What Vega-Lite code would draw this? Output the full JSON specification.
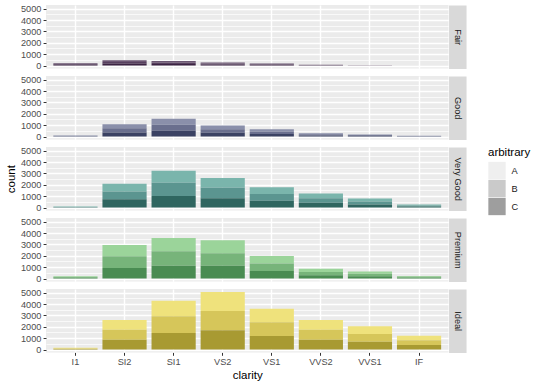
{
"$schema": "https://vega.github.io/schema/vega-lite/v6.json",
"padding": {"left": 5, "top": 4, "right": 0, "bottom": 0},
"bounds": "flush",
"spacing": 7,
"config": {"font": "Liberation Sans", "view": {"fill": "#EBEBEB", "stroke": null}},
"datasets": {"d": [
{"cut":"Fair","clarity":"I1","arbitrary":"A","count":72},{"cut":"Fair","clarity":"I1","arbitrary":"B","count":68},{"cut":"Fair","clarity":"I1","arbitrary":"C","count":70},
{"cut":"Fair","clarity":"SI2","arbitrary":"A","count":158},{"cut":"Fair","clarity":"SI2","arbitrary":"B","count":152},{"cut":"Fair","clarity":"SI2","arbitrary":"C","count":156},
{"cut":"Fair","clarity":"SI1","arbitrary":"A","count":134},{"cut":"Fair","clarity":"SI1","arbitrary":"B","count":140},{"cut":"Fair","clarity":"SI1","arbitrary":"C","count":134},
{"cut":"Fair","clarity":"VS2","arbitrary":"A","count":88},{"cut":"Fair","clarity":"VS2","arbitrary":"B","count":85},{"cut":"Fair","clarity":"VS2","arbitrary":"C","count":88},
{"cut":"Fair","clarity":"VS1","arbitrary":"A","count":55},{"cut":"Fair","clarity":"VS1","arbitrary":"B","count":58},{"cut":"Fair","clarity":"VS1","arbitrary":"C","count":57},
{"cut":"Fair","clarity":"VVS2","arbitrary":"A","count":24},{"cut":"Fair","clarity":"VVS2","arbitrary":"B","count":22},{"cut":"Fair","clarity":"VVS2","arbitrary":"C","count":23},
{"cut":"Fair","clarity":"VVS1","arbitrary":"A","count":6},{"cut":"Fair","clarity":"VVS1","arbitrary":"B","count":5},{"cut":"Fair","clarity":"VVS1","arbitrary":"C","count":6},
{"cut":"Fair","clarity":"IF","arbitrary":"A","count":3},{"cut":"Fair","clarity":"IF","arbitrary":"B","count":3},{"cut":"Fair","clarity":"IF","arbitrary":"C","count":3},
{"cut":"Good","clarity":"I1","arbitrary":"A","count":33},{"cut":"Good","clarity":"I1","arbitrary":"B","count":31},{"cut":"Good","clarity":"I1","arbitrary":"C","count":32},
{"cut":"Good","clarity":"SI2","arbitrary":"A","count":362},{"cut":"Good","clarity":"SI2","arbitrary":"B","count":355},{"cut":"Good","clarity":"SI2","arbitrary":"C","count":364},
{"cut":"Good","clarity":"SI1","arbitrary":"A","count":518},{"cut":"Good","clarity":"SI1","arbitrary":"B","count":527},{"cut":"Good","clarity":"SI1","arbitrary":"C","count":515},
{"cut":"Good","clarity":"VS2","arbitrary":"A","count":330},{"cut":"Good","clarity":"VS2","arbitrary":"B","count":322},{"cut":"Good","clarity":"VS2","arbitrary":"C","count":326},
{"cut":"Good","clarity":"VS1","arbitrary":"A","count":214},{"cut":"Good","clarity":"VS1","arbitrary":"B","count":219},{"cut":"Good","clarity":"VS1","arbitrary":"C","count":215},
{"cut":"Good","clarity":"VVS2","arbitrary":"A","count":97},{"cut":"Good","clarity":"VVS2","arbitrary":"B","count":93},{"cut":"Good","clarity":"VVS2","arbitrary":"C","count":96},
{"cut":"Good","clarity":"VVS1","arbitrary":"A","count":60},{"cut":"Good","clarity":"VVS1","arbitrary":"B","count":64},{"cut":"Good","clarity":"VVS1","arbitrary":"C","count":62},
{"cut":"Good","clarity":"IF","arbitrary":"A","count":24},{"cut":"Good","clarity":"IF","arbitrary":"B","count":23},{"cut":"Good","clarity":"IF","arbitrary":"C","count":24},
{"cut":"Very Good","clarity":"I1","arbitrary":"A","count":28},{"cut":"Very Good","clarity":"I1","arbitrary":"B","count":27},{"cut":"Very Good","clarity":"I1","arbitrary":"C","count":29},
{"cut":"Very Good","clarity":"SI2","arbitrary":"A","count":680},{"cut":"Very Good","clarity":"SI2","arbitrary":"B","count":700},{"cut":"Very Good","clarity":"SI2","arbitrary":"C","count":720},
{"cut":"Very Good","clarity":"SI1","arbitrary":"A","count":1070},{"cut":"Very Good","clarity":"SI1","arbitrary":"B","count":1160},{"cut":"Very Good","clarity":"SI1","arbitrary":"C","count":1010},
{"cut":"Very Good","clarity":"VS2","arbitrary":"A","count":851},{"cut":"Very Good","clarity":"VS2","arbitrary":"B","count":930},{"cut":"Very Good","clarity":"VS2","arbitrary":"C","count":810},
{"cut":"Very Good","clarity":"VS1","arbitrary":"A","count":590},{"cut":"Very Good","clarity":"VS1","arbitrary":"B","count":597},{"cut":"Very Good","clarity":"VS1","arbitrary":"C","count":588},
{"cut":"Very Good","clarity":"VVS2","arbitrary":"A","count":415},{"cut":"Very Good","clarity":"VVS2","arbitrary":"B","count":408},{"cut":"Very Good","clarity":"VVS2","arbitrary":"C","count":412},
{"cut":"Very Good","clarity":"VVS1","arbitrary":"A","count":262},{"cut":"Very Good","clarity":"VVS1","arbitrary":"B","count":265},{"cut":"Very Good","clarity":"VVS1","arbitrary":"C","count":262},
{"cut":"Very Good","clarity":"IF","arbitrary":"A","count":90},{"cut":"Very Good","clarity":"IF","arbitrary":"B","count":88},{"cut":"Very Good","clarity":"IF","arbitrary":"C","count":90},
{"cut":"Premium","clarity":"I1","arbitrary":"A","count":70},{"cut":"Premium","clarity":"I1","arbitrary":"B","count":66},{"cut":"Premium","clarity":"I1","arbitrary":"C","count":69},
{"cut":"Premium","clarity":"SI2","arbitrary":"A","count":979},{"cut":"Premium","clarity":"SI2","arbitrary":"B","count":1040},{"cut":"Premium","clarity":"SI2","arbitrary":"C","count":930},
{"cut":"Premium","clarity":"SI1","arbitrary":"A","count":1175},{"cut":"Premium","clarity":"SI1","arbitrary":"B","count":1270},{"cut":"Premium","clarity":"SI1","arbitrary":"C","count":1130},
{"cut":"Premium","clarity":"VS2","arbitrary":"A","count":1127},{"cut":"Premium","clarity":"VS2","arbitrary":"B","count":1100},{"cut":"Premium","clarity":"VS2","arbitrary":"C","count":1130},
{"cut":"Premium","clarity":"VS1","arbitrary":"A","count":660},{"cut":"Premium","clarity":"VS1","arbitrary":"B","count":668},{"cut":"Premium","clarity":"VS1","arbitrary":"C","count":661},
{"cut":"Premium","clarity":"VVS2","arbitrary":"A","count":292},{"cut":"Premium","clarity":"VVS2","arbitrary":"B","count":286},{"cut":"Premium","clarity":"VVS2","arbitrary":"C","count":292},
{"cut":"Premium","clarity":"VVS1","arbitrary":"A","count":203},{"cut":"Premium","clarity":"VVS1","arbitrary":"B","count":208},{"cut":"Premium","clarity":"VVS1","arbitrary":"C","count":205},
{"cut":"Premium","clarity":"IF","arbitrary":"A","count":78},{"cut":"Premium","clarity":"IF","arbitrary":"B","count":75},{"cut":"Premium","clarity":"IF","arbitrary":"C","count":77},
{"cut":"Ideal","clarity":"I1","arbitrary":"A","count":48},{"cut":"Ideal","clarity":"I1","arbitrary":"B","count":50},{"cut":"Ideal","clarity":"I1","arbitrary":"C","count":48},
{"cut":"Ideal","clarity":"SI2","arbitrary":"A","count":858},{"cut":"Ideal","clarity":"SI2","arbitrary":"B","count":870},{"cut":"Ideal","clarity":"SI2","arbitrary":"C","count":870},
{"cut":"Ideal","clarity":"SI1","arbitrary":"A","count":1352},{"cut":"Ideal","clarity":"SI1","arbitrary":"B","count":1480},{"cut":"Ideal","clarity":"SI1","arbitrary":"C","count":1450},
{"cut":"Ideal","clarity":"VS2","arbitrary":"A","count":1681},{"cut":"Ideal","clarity":"VS2","arbitrary":"B","count":1690},{"cut":"Ideal","clarity":"VS2","arbitrary":"C","count":1700},
{"cut":"Ideal","clarity":"VS1","arbitrary":"A","count":1200},{"cut":"Ideal","clarity":"VS1","arbitrary":"B","count":1190},{"cut":"Ideal","clarity":"VS1","arbitrary":"C","count":1199},
{"cut":"Ideal","clarity":"VVS2","arbitrary":"A","count":872},{"cut":"Ideal","clarity":"VVS2","arbitrary":"B","count":865},{"cut":"Ideal","clarity":"VVS2","arbitrary":"C","count":869},
{"cut":"Ideal","clarity":"VVS1","arbitrary":"A","count":680},{"cut":"Ideal","clarity":"VVS1","arbitrary":"B","count":690},{"cut":"Ideal","clarity":"VVS1","arbitrary":"C","count":677},
{"cut":"Ideal","clarity":"IF","arbitrary":"A","count":405},{"cut":"Ideal","clarity":"IF","arbitrary":"B","count":400},{"cut":"Ideal","clarity":"IF","arbitrary":"C","count":407}
]},
"vconcat": [
{
 "width": 402.5, "height": 63.4,
 "data": {"name": "d"},
 "transform": [{"filter": "datum.cut === 'Fair'"}],
 "layer": [
  {"mark": {"type": "bar"},
   "encoding": {
    "x": {"field": "clarity", "type": "nominal", "sort": ["I1","SI2","SI1","VS2","VS1","VVS2","VVS1","IF"], "scale": {"paddingInner": 0.1, "paddingOuter": 0.15},
          "axis": {"labels": false, "ticks": false, "domain": false, "grid": true, "gridColor": "#FFFFFF", "gridWidth": 1.4, "title": null, "bandPosition": 0.5}},
    "y": {"field": "count", "type": "quantitative", "stack": "zero", "scale": {"domain": [-253.55, 5324.55], "nice": false, "zero": false},
          "axis": {"values": [0,1000,2000,3000,4000,5000], "format": "d", "grid": true, "gridColor": "#FFFFFF", "gridWidth": 1.4, "domain": false, "tickColor": "#333333", "tickSize": 2.9, "tickWidth": 1, "labelColor": "#4D4D4D", "labelFontSize": 9.2, "labelPadding": 2.2, "labelOverlap": false, "title": "count", "titleOpacity": 0, "titleFontSize": 11.5, "titleFontWeight": "normal", "titleColor": "#000000", "titlePadding": 4}},
    "color": {"field": "arbitrary", "type": "nominal", "scale": {"domain": ["A","B","C"], "range": ["#6B5672","#58405F","#3B2342"]}, "legend": null},
    "order": {"field": "arbitrary", "sort": "descending"}
   }},
  {"mark": {"type": "bar", "opacity": 0},
   "encoding": {
    "x": {"field": "clarity", "type": "nominal", "sort": ["I1","SI2","SI1","VS2","VS1","VVS2","VVS1","IF"]},
    "y": {"field": "count", "type": "quantitative", "stack": null, "scale": {"domain": [-253.55, 5324.55], "nice": false, "zero": false},
          "axis": {"orient": "right", "values": [500,1500,2500,3500,4500], "grid": true, "gridColor": "#FFFFFF", "gridWidth": 0.7, "ticks": false, "labels": false, "domain": true, "domainColor": "#D9D9D9", "domainWidth": 17.5, "offset": 8.8, "title": "Fair", "titleAngle": 90, "titleX": 0, "titleY": 31.7, "titleAlign": "center", "titleBaseline": "middle", "titleFontSize": 9.2, "titleFontWeight": "normal", "titleColor": "#1A1A1A"}}
   }}
 ],
 "resolve": {"scale": {"y": "independent"}}
},
{
 "width": 402.5, "height": 63.4,
 "data": {"name": "d"},
 "transform": [{"filter": "datum.cut === 'Good'"}],
 "layer": [
  {"mark": {"type": "bar"},
   "encoding": {
    "x": {"field": "clarity", "type": "nominal", "sort": ["I1","SI2","SI1","VS2","VS1","VVS2","VVS1","IF"], "scale": {"paddingInner": 0.1, "paddingOuter": 0.15},
          "axis": {"labels": false, "ticks": false, "domain": false, "grid": true, "gridColor": "#FFFFFF", "gridWidth": 1.4, "title": null, "bandPosition": 0.5}},
    "y": {"field": "count", "type": "quantitative", "stack": "zero", "scale": {"domain": [-253.55, 5324.55], "nice": false, "zero": false},
          "axis": {"values": [0,1000,2000,3000,4000,5000], "format": "d", "grid": true, "gridColor": "#FFFFFF", "gridWidth": 1.4, "domain": false, "tickColor": "#333333", "tickSize": 2.9, "tickWidth": 1, "labelColor": "#4D4D4D", "labelFontSize": 9.2, "labelPadding": 2.2, "labelOverlap": false, "title": "count", "titleOpacity": 0, "titleFontSize": 11.5, "titleFontWeight": "normal", "titleColor": "#000000", "titlePadding": 4}},
    "color": {"field": "arbitrary", "type": "nominal", "scale": {"domain": ["A","B","C"], "range": ["#8A8FAA","#6A6F8E","#3B4263"]}, "legend": null},
    "order": {"field": "arbitrary", "sort": "descending"}
   }},
  {"mark": {"type": "bar", "opacity": 0},
   "encoding": {
    "x": {"field": "clarity", "type": "nominal", "sort": ["I1","SI2","SI1","VS2","VS1","VVS2","VVS1","IF"]},
    "y": {"field": "count", "type": "quantitative", "stack": null, "scale": {"domain": [-253.55, 5324.55], "nice": false, "zero": false},
          "axis": {"orient": "right", "values": [500,1500,2500,3500,4500], "grid": true, "gridColor": "#FFFFFF", "gridWidth": 0.7, "ticks": false, "labels": false, "domain": true, "domainColor": "#D9D9D9", "domainWidth": 17.5, "offset": 8.8, "title": "Good", "titleAngle": 90, "titleX": 0, "titleY": 31.7, "titleAlign": "center", "titleBaseline": "middle", "titleFontSize": 9.2, "titleFontWeight": "normal", "titleColor": "#1A1A1A"}}
   }}
 ],
 "resolve": {"scale": {"y": "independent"}}
},
{
 "width": 402.5, "height": 63.4,
 "data": {"name": "d"},
 "transform": [{"filter": "datum.cut === 'Very Good'"}],
 "layer": [
  {"mark": {"type": "bar"},
   "encoding": {
    "x": {"field": "clarity", "type": "nominal", "sort": ["I1","SI2","SI1","VS2","VS1","VVS2","VVS1","IF"], "scale": {"paddingInner": 0.1, "paddingOuter": 0.15},
          "axis": {"labels": false, "ticks": false, "domain": false, "grid": true, "gridColor": "#FFFFFF", "gridWidth": 1.4, "title": null, "bandPosition": 0.5}},
    "y": {"field": "count", "type": "quantitative", "stack": "zero", "scale": {"domain": [-253.55, 5324.55], "nice": false, "zero": false},
          "axis": {"values": [0,1000,2000,3000,4000,5000], "format": "d", "grid": true, "gridColor": "#FFFFFF", "gridWidth": 1.4, "domain": false, "tickColor": "#333333", "tickSize": 2.9, "tickWidth": 1, "labelColor": "#4D4D4D", "labelFontSize": 9.2, "labelPadding": 2.2, "labelOverlap": false, "title": "count", "titleOpacity": 1, "titleFontSize": 11.5, "titleFontWeight": "normal", "titleColor": "#000000", "titlePadding": 4}},
    "color": {"field": "arbitrary", "type": "nominal", "scale": {"domain": ["A","B","C"], "range": ["#7AB5AC","#5B9590","#2F6660"]}, "legend": null},
    "order": {"field": "arbitrary", "sort": "descending"}
   }},
  {"mark": {"type": "bar"},
   "encoding": {
    "x": {"field": "clarity", "type": "nominal", "sort": ["I1","SI2","SI1","VS2","VS1","VVS2","VVS1","IF"]},
    "y": {"field": "count", "type": "quantitative", "stack": null, "scale": {"domain": [-253.55, 5324.55], "nice": false, "zero": false},
          "axis": {"orient": "right", "values": [500,1500,2500,3500,4500], "grid": true, "gridColor": "#FFFFFF", "gridWidth": 0.7, "ticks": false, "labels": false, "domain": true, "domainColor": "#D9D9D9", "domainWidth": 17.5, "offset": 8.8, "title": "Very Good", "titleAngle": 90, "titleX": 0, "titleY": 31.7, "titleAlign": "center", "titleBaseline": "middle", "titleFontSize": 9.2, "titleFontWeight": "normal", "titleColor": "#1A1A1A"}},
    "y2": {"field": "count"},
    "color": {"field": "arbitrary", "type": "nominal", "scale": {"domain": ["A","B","C"], "range": ["#EFEFEF","#CACACA","#9E9E9E"]},
          "legend": {"title": "arbitrary", "orient": "right", "offset": 25.5, "symbolType": "square", "symbolSize": 300, "symbolStrokeWidth": 0, "rowPadding": 0, "titleFontSize": 11.5, "titleFontWeight": "normal", "titleColor": "#000000", "titlePadding": 3, "labelFontSize": 9.2, "labelColor": "#1A1A1A", "labelOffset": 5.5}}
   }}
 ],
 "resolve": {"scale": {"y": "independent", "color": "independent"}, "legend": {"color": "independent"}}
},
{
 "width": 402.5, "height": 63.4,
 "data": {"name": "d"},
 "transform": [{"filter": "datum.cut === 'Premium'"}],
 "layer": [
  {"mark": {"type": "bar"},
   "encoding": {
    "x": {"field": "clarity", "type": "nominal", "sort": ["I1","SI2","SI1","VS2","VS1","VVS2","VVS1","IF"], "scale": {"paddingInner": 0.1, "paddingOuter": 0.15},
          "axis": {"labels": false, "ticks": false, "domain": false, "grid": true, "gridColor": "#FFFFFF", "gridWidth": 1.4, "title": null, "bandPosition": 0.5}},
    "y": {"field": "count", "type": "quantitative", "stack": "zero", "scale": {"domain": [-253.55, 5324.55], "nice": false, "zero": false},
          "axis": {"values": [0,1000,2000,3000,4000,5000], "format": "d", "grid": true, "gridColor": "#FFFFFF", "gridWidth": 1.4, "domain": false, "tickColor": "#333333", "tickSize": 2.9, "tickWidth": 1, "labelColor": "#4D4D4D", "labelFontSize": 9.2, "labelPadding": 2.2, "labelOverlap": false, "title": "count", "titleOpacity": 0, "titleFontSize": 11.5, "titleFontWeight": "normal", "titleColor": "#000000", "titlePadding": 4}},
    "color": {"field": "arbitrary", "type": "nominal", "scale": {"domain": ["A","B","C"], "range": ["#9BD49A","#77B47A","#4A8C52"]}, "legend": null},
    "order": {"field": "arbitrary", "sort": "descending"}
   }},
  {"mark": {"type": "bar", "opacity": 0},
   "encoding": {
    "x": {"field": "clarity", "type": "nominal", "sort": ["I1","SI2","SI1","VS2","VS1","VVS2","VVS1","IF"]},
    "y": {"field": "count", "type": "quantitative", "stack": null, "scale": {"domain": [-253.55, 5324.55], "nice": false, "zero": false},
          "axis": {"orient": "right", "values": [500,1500,2500,3500,4500], "grid": true, "gridColor": "#FFFFFF", "gridWidth": 0.7, "ticks": false, "labels": false, "domain": true, "domainColor": "#D9D9D9", "domainWidth": 17.5, "offset": 8.8, "title": "Premium", "titleAngle": 90, "titleX": 0, "titleY": 31.7, "titleAlign": "center", "titleBaseline": "middle", "titleFontSize": 9.2, "titleFontWeight": "normal", "titleColor": "#1A1A1A"}}
   }}
 ],
 "resolve": {"scale": {"y": "independent"}}
},
{
 "width": 402.5, "height": 63.4,
 "data": {"name": "d"},
 "transform": [{"filter": "datum.cut === 'Ideal'"}],
 "layer": [
  {"mark": {"type": "bar"},
   "encoding": {
    "x": {"field": "clarity", "type": "nominal", "sort": ["I1","SI2","SI1","VS2","VS1","VVS2","VVS1","IF"], "scale": {"paddingInner": 0.1, "paddingOuter": 0.15},
          "axis": {"labels": true, "ticks": true, "domain": false, "grid": true, "gridColor": "#FFFFFF", "gridWidth": 1.4, "bandPosition": 0.5, "tickColor": "#333333", "tickSize": 2.9, "tickWidth": 1, "labelColor": "#4D4D4D", "labelFontSize": 9.2, "labelPadding": 2.2, "labelAngle": 0, "title": "clarity", "titleFontSize": 11.5, "titleFontWeight": "normal", "titleColor": "#000000", "titlePadding": 3}},
    "y": {"field": "count", "type": "quantitative", "stack": "zero", "scale": {"domain": [-253.55, 5324.55], "nice": false, "zero": false},
          "axis": {"values": [0,1000,2000,3000,4000,5000], "format": "d", "grid": true, "gridColor": "#FFFFFF", "gridWidth": 1.4, "domain": false, "tickColor": "#333333", "tickSize": 2.9, "tickWidth": 1, "labelColor": "#4D4D4D", "labelFontSize": 9.2, "labelPadding": 2.2, "labelOverlap": false, "title": "count", "titleOpacity": 0, "titleFontSize": 11.5, "titleFontWeight": "normal", "titleColor": "#000000", "titlePadding": 4}},
    "color": {"field": "arbitrary", "type": "nominal", "scale": {"domain": ["A","B","C"], "range": ["#EFE27C","#D6C65A","#A89A32"]}, "legend": null},
    "order": {"field": "arbitrary", "sort": "descending"}
   }},
  {"mark": {"type": "bar", "opacity": 0},
   "encoding": {
    "x": {"field": "clarity", "type": "nominal", "sort": ["I1","SI2","SI1","VS2","VS1","VVS2","VVS1","IF"]},
    "y": {"field": "count", "type": "quantitative", "stack": null, "scale": {"domain": [-253.55, 5324.55], "nice": false, "zero": false},
          "axis": {"orient": "right", "values": [500,1500,2500,3500,4500], "grid": true, "gridColor": "#FFFFFF", "gridWidth": 0.7, "ticks": false, "labels": false, "domain": true, "domainColor": "#D9D9D9", "domainWidth": 17.5, "offset": 8.8, "title": "Ideal", "titleAngle": 90, "titleX": 0, "titleY": 31.7, "titleAlign": "center", "titleBaseline": "middle", "titleFontSize": 9.2, "titleFontWeight": "normal", "titleColor": "#1A1A1A"}}
   }}
 ],
 "resolve": {"scale": {"y": "independent"}}
}
],
"resolve": {"scale": {"color": "independent"}, "legend": {"color": "independent"}}
}
